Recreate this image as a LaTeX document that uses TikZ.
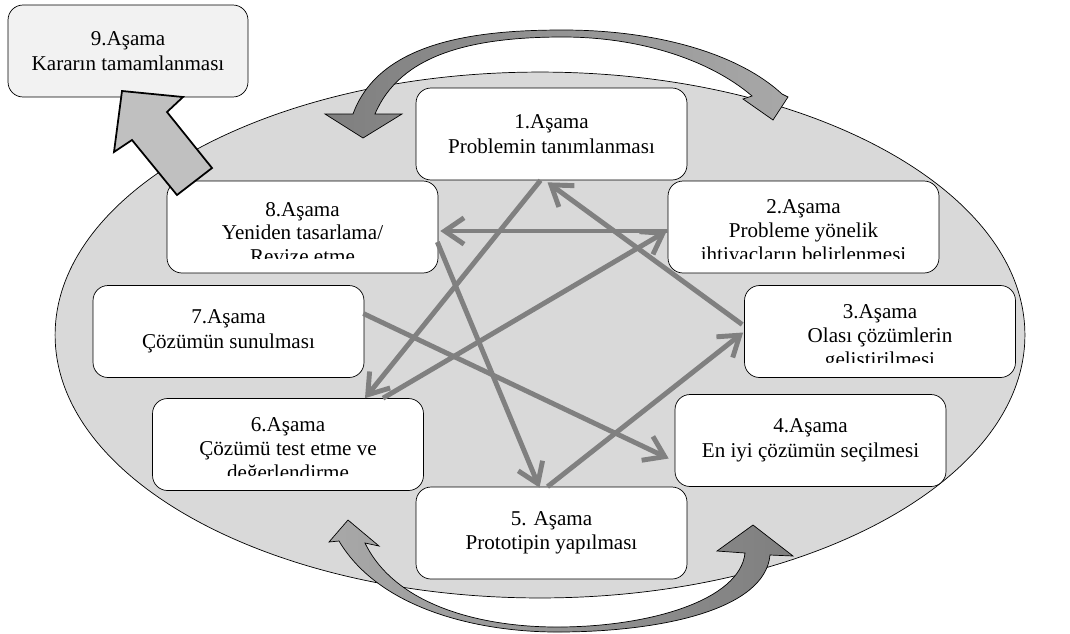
\documentclass[tikz,border=0pt]{standalone}
\usepackage{fontspec}
\setmainfont{Liberation Serif}
\usetikzlibrary{calc,arrows.meta}

\definecolor{ovalgray}{HTML}{D9D9D9}
\definecolor{linegray}{HTML}{808080}
\definecolor{boxgray}{HTML}{F2F2F2}
\definecolor{blockgray}{HTML}{C0C0C0}
\definecolor{arcdark}{HTML}{7F7F7F}
\definecolor{arclight}{HTML}{A8A8A8}

\begin{document}
\begin{tikzpicture}[x=0.02cm, y=-0.02cm,
    stage/.style={draw, thin, fill=white, rounded corners=0.3cm, minimum width=5.42cm,
      minimum height=1.84cm, inner sep=0pt, align=center, font=\fontsize{12}{14}\selectfont},
    stagetext/.style={align=center, inner sep=0pt, font=\fontsize{12}{13.6}\selectfont},
    link/.style={linegray, line width=2.8pt, -{Straight Barb[length=11pt,width=15pt]}}]

    \useasboundingbox (0,0) rectangle (1070,633);

    \draw[thin, fill=ovalgray] (540,335) ellipse [x radius=9.7cm, y radius=5.26cm];

    % curved arrows round the oval
    \draw[thin, left color=arcdark, right color=arclight]
      (325,114) -- (363,138) -- (402,114) -- (375,114)
      .. controls (400,55) and (470,37) .. (563,37)
      .. controls (640,37) and (710,60) .. (752,96)
      -- (743,99) -- (773,120) -- (788,97) -- (782,94)
      .. controls (740,55) and (660,30) .. (563,30)
      .. controls (480,30) and (380,40) .. (353,114) -- cycle;
    \draw[thin, left color=arclight, right color=arcdark]
      (348,520) -- (379,546) -- (365,543)
      .. controls (395,605) and (480,627) .. (557,627)
      .. controls (650,627) and (740,600) .. (745,553)
      -- (717,551) -- (753,525) -- (793,556) -- (770,555)
      .. controls (765,610) and (660,632) .. (557,632)
      .. controls (480,632) and (380,610) .. (339,541)
      -- (329,542) -- cycle;

    \node[stage] (a1) at (551.5,134) {1.Aşama\\Problemin tanımlanması};
    \node[stage] (a2) at (803.5,227) {};
    \node[stage] (a3) at (880,331.5) {};
    \node[stage] (a4) at (810.5,440.5) {4.Aşama\\En iyi çözümün seçilmesi};
    \node[stage] (a5) at (551.5,533) {5. Aşama\\Prototipin yapılması};
    \node[stage] (a6) at (288,444.5) {};
    \node[stage] (a7) at (228.5,331.5) {7.Aşama\\Çözümün sunulması};
    \node[stage] (a8) at (302.5,227) {};
    \node[stage, fill=boxgray, minimum width=4.8cm] (a9) at (128,51) {9.Aşama\\Kararın tamamlanması};

    % third lines are cut off by the box
    \foreach \n/\txt in {2/{2.Aşama\\Probleme yönelik\\ihtiyaçların belirlenmesi},
                         3/{3.Aşama\\Olası çözümlerin\\geliştirilmesi},
                         6/{6.Aşama\\Çözümü test etme ve\\değerlendirme},
                         8/{8.Aşama\\Yeniden tasarlama/\\Revize etme}} {
      \begin{scope}
        \clip (a\n.north west) rectangle ($(a\n.south east)+(0,-15)$);
        \node[stagetext] (t\n) at ($(a\n.center)+(0,6)$) {\txt};
      \end{scope}
    }

    \draw[link] ($(a1.south)+(-11,0)$) -- ($(a6.north)+(77,0)$);
    \draw[link] ($(a3.west)+(-2,-7)$) -- ($(a1.south)+(-4,2)$);
    \draw[link] ($(a2.west)+(0,4)$) -- ($(a8.east)+(2,4)$);
    \draw[link] ($(a6.north)+(95,0)$) -- ($(a2.west)+(-1,4)$);
    \draw[link] ($(a8.east)+(-1,15)$) -- ($(a5.north)+(-12,1)$);
    \draw[link] ($(a7.east)+(-1,-18)$) -- ($(a4.west)+(-6,18)$);
    \draw[link] ($(a5.north)+(-4,0)$) -- ($(a3.west)+(-1,1)$);

    % way out to the last stage
    \draw[line width=1pt, fill=blockgray] (122,91) -- (183,97) -- (167,112) -- (212,168)
      -- (177,195) -- (132,140) -- (114,152) -- cycle;

\end{tikzpicture}
\end{document}
